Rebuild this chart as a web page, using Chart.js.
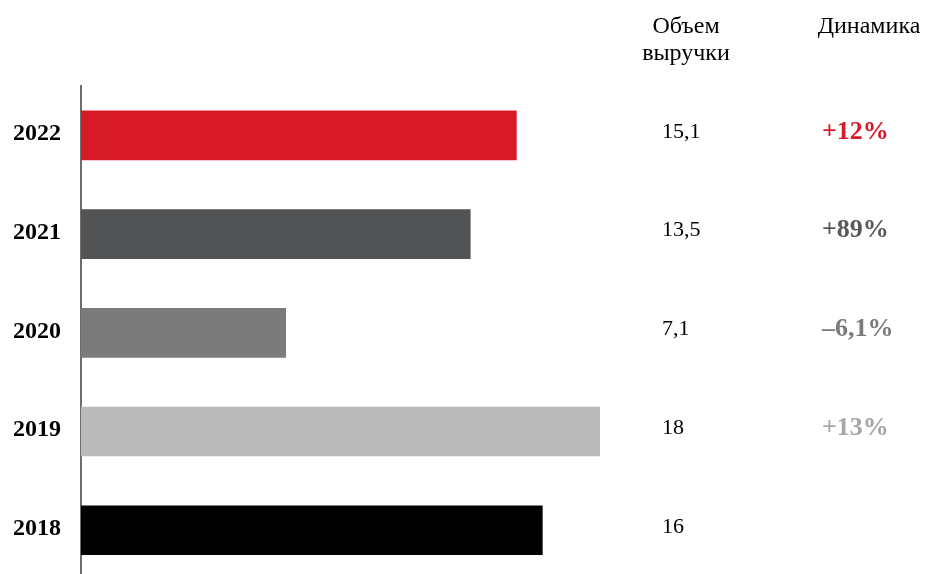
<!DOCTYPE html>
<html><head><meta charset="utf-8">
<script src="https://cdn.jsdelivr.net/npm/chart.js@4"></script>
<style>html,body{margin:0;padding:0;background:#fff;overflow:hidden;width:926px;height:574px}canvas{display:block}</style>
</head><body><canvas id="c" width="926" height="614"></canvas>
<script>
const years = ["2022","2021","2020","2019","2018"];
const revenue = [15.1, 13.5, 7.1, 18, 16];
const revenueLabels = ["15,1","13,5","7,1","18","16"];
const dynamics = ["+12%","+89%","\u20136,1%","+13%",""];
const barColors = ["#d71a28","#525355","#7b7b7b","#bababa","#000000"];
const dynColors = ["#d71a28","#58595b","#7b7b7b","#a6a6a6","#000000"];
const headers = {revenue:["Объем","выручки"], dynamics:["Динамика"]};

const SERIF = '"Liberation Serif","DejaVu Serif",serif';

const columns = {
  id:'columns',
  afterDraw(chart){
    const ctx = chart.ctx, y = chart.scales.y;
    ctx.save();
    ctx.textBaseline = 'middle';
    ctx.fillStyle = '#000';
    ctx.font = '24px ' + SERIF;
    ctx.textAlign = 'center';
    headers.revenue.forEach((t,i)=>ctx.fillText(t, 686, 27 + i*27));
    headers.dynamics.forEach((t,i)=>ctx.fillText(t, 869, 27 + i*27));
    ctx.textAlign = 'left';
    years.forEach((yr,i)=>{
      const py = y.getPixelForValue(i) - 3.5;
      ctx.font = '22px ' + SERIF;
      ctx.fillStyle = '#000';
      ctx.fillText(revenueLabels[i], 662, py);
      ctx.font = 'bold 26px ' + SERIF;
      ctx.fillStyle = dynColors[i];
      ctx.fillText(dynamics[i], 822, py);
    });
    ctx.restore();
  }
};

new Chart(document.getElementById('c'), {
  type:'bar',
  data:{labels:years, datasets:[{data:revenue, backgroundColor:barColors, barThickness:49, borderWidth:0}]},
  options:{
    indexAxis:'y', responsive:false, animation:false,
    layout:{padding:{top:86,right:326,bottom:0,left:0}},
    plugins:{legend:{display:false}, tooltip:{enabled:false}},
    scales:{
      x:{display:false, min:0, max:18},
      y:{
        afterFit(s){ s.width = 81; },
        grid:{display:false, drawTicks:false},
        border:{display:true, color:'#6e6e6e', width:2},
        ticks:{color:'#000', padding:20, labelOffset:-1.5, font:{family:SERIF, size:24, weight:'bold'}}
      }
    }
  },
  plugins:[columns]
});
</script></body></html>
